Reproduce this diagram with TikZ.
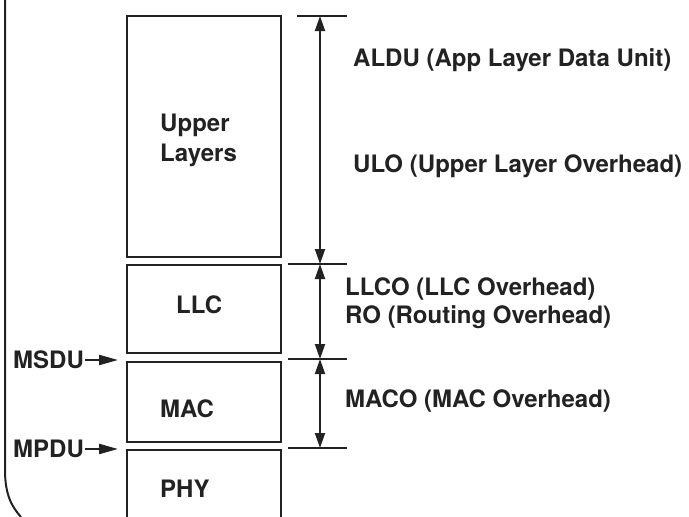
\documentclass[tikz,border=0pt]{standalone}
\usepackage{fontspec}
\setmainfont{TeX Gyre Heros}
\usetikzlibrary{arrows.meta}
\definecolor{ink}{HTML}{222222}
\begin{document}
\begin{tikzpicture}[x=1pt,y=-1pt,
  layer/.style={draw=ink,line width=2.2pt},
  lbl/.style={text=ink,font=\bfseries\fontsize{24}{27}\selectfont,inner sep=0pt,anchor=base west},
  tick/.style={draw=ink,line width=1.9pt},
  dim/.style={draw=ink,line width=1.9pt,{Triangle[length=15pt,width=10pt]}-{Triangle[length=15pt,width=10pt]}},
  ptr/.style={draw=ink,line width=2.2pt,-{Triangle[length=19pt,width=10pt]}}]
\useasboundingbox (0,0) rectangle (689,517);
% left bracket
\draw[draw=ink,line width=2pt] (5,0) -- (5,470) .. controls (5,495) and (12,507) .. (21,517);
% layer boxes
\draw[layer] (127,16) rectangle (281,257);
\draw[layer] (127,265) rectangle (281,353);
\draw[layer] (127,362) rectangle (281,442);
\draw[layer] (127,517) -- (127,450) -- (281,450) -- (281,517);
\node[lbl] (upper) at (160,131) {Upper};
\node[lbl] (layers) at (160,161) {Layers};
\node[lbl] (llc) at (176,313) {LLC};
\node[lbl] (mac) at (160,417) {MAC};
\node[lbl] (phy) at (160,497) {PHY};
% ticks
\coordinate (t0) at (320,16);
\coordinate (t1) at (320,264);
\coordinate (t2) at (320,359);
\coordinate (t3) at (320,448);
\draw[tick] (297,16) -- (347,16);
\draw[tick] (288,264) -- (347,264);
\draw[tick] (288,359) -- (347,359);
\draw[tick] (288,448) -- (347,448);
\draw[dim] (t0) -- (t1);
\draw[dim] (t1) -- (t2);
\draw[dim] (t2) -- (t3);
% labels
\node[lbl] (aldu) at (353,66) {ALDU (App Layer Data Unit)};
\node[lbl] (ulo) at (353,172) {ULO (Upper Layer Overhead)};
\node[lbl] (llco) at (345,295) {LLCO (LLC Overhead)};
\node[lbl] (ro) at (345,323) {RO (Routing Overhead)};
\node[lbl] (maco) at (345,407) {MACO (MAC Overhead)};
% pointers
\node[lbl] (msdu) at (13,368) {MSDU};
\node[lbl] (mpdu) at (13,457) {MPDU};
\coordinate (msduend) at (118,360);
\coordinate (mpduend) at (118,449);
\draw[ptr] (msdu.east |- msduend) ++(1,0) -- (msduend);
\draw[ptr] (mpdu.east |- mpduend) ++(1,0) -- (mpduend);
\end{tikzpicture}
\end{document}
